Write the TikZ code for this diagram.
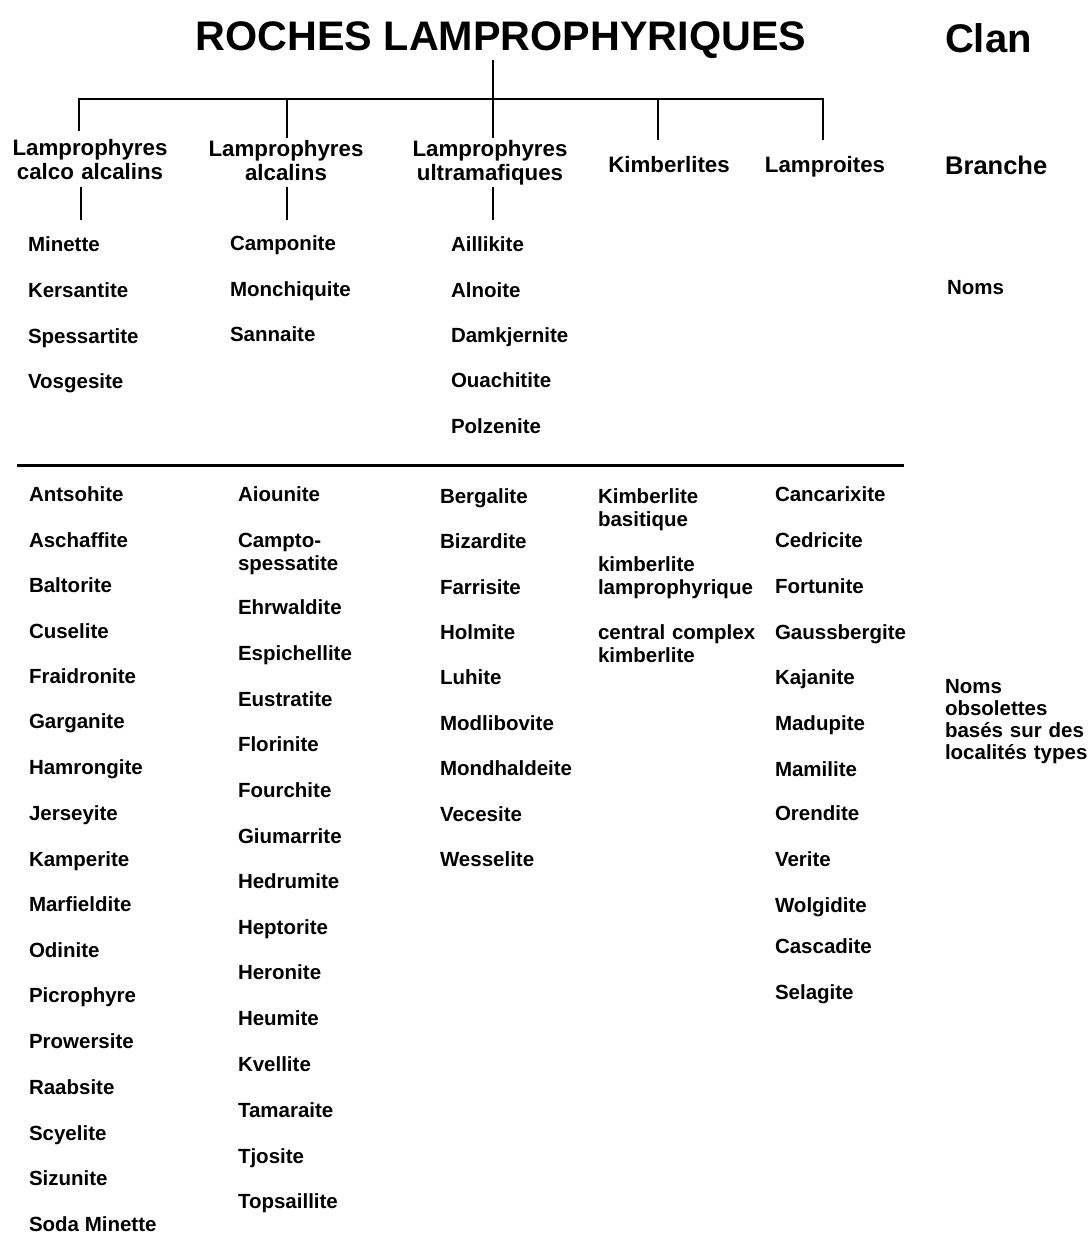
\documentclass[tikz,border=0pt]{standalone}
\usepackage{fontspec}
\setmainfont{Liberation Sans}
\begin{document}
\begin{tikzpicture}[x=1pt,y=-1pt,
  nm/.style={inner sep=0pt, outer sep=0pt, font=\bfseries\fontsize{20.5}{23}\selectfont, anchor=base west},
  ml/.style={nm, text width=200pt, align=left},
  br/.style={inner sep=0pt, outer sep=0pt, font=\bfseries\fontsize{22.3}{24.5}\selectfont, text width=200pt, align=center, anchor=base},
  ttl/.style={inner sep=0pt, outer sep=0pt, font=\bfseries\fontsize{41.3}{44}\selectfont, anchor=base},
  side/.style={inner sep=0pt, outer sep=0pt, font=\bfseries\fontsize{20.5}{22.3}\selectfont, text width=160pt, align=left, anchor=base west},
  tree/.style={line width=2pt},
  sep/.style={line width=3pt}]
\useasboundingbox (0,0) rectangle (1088,1235);

% --- headers
\node[ttl] (title) at (501,50) {ROCHES LAMPROPHYRIQUES};
\node[inner sep=0pt, outer sep=0pt, font=\bfseries\fontsize{40}{44}\selectfont, anchor=base west] (clan) at (945,52) {Clan};
\node[inner sep=0pt, font=\bfseries\fontsize{25.5}{28}\selectfont, anchor=base west] (branche) at (945,174) {Branche};
\node[nm, anchor=base west] (noms) at (947,294) {Noms};
\node[side] (obs) at (945,693) {Noms\\obsolettes\\basés sur des\\localités types};

% --- branches
\node[br] (b1) at (90,155) {Lamprophyres\\calco alcalins};
\node[br] (b2) at (286,156) {Lamprophyres\\alcalins};
\node[br] (b3) at (490,156) {Lamprophyres\\ultramafiques};
\node[br] (b4) at (669,172) {Kimberlites};
\node[br] (b5) at (825,172) {Lamproites};

% --- tree
\coordinate (top) at (493,60);
\coordinate (j3) at (493,99);
\coordinate (jL) at (79,99);
\coordinate (j2) at (287,99);
\coordinate (j4) at (658,99);
\coordinate (jR) at (823,99);
\coordinate (e1) at (79,131);
\coordinate (e2) at (287,138);
\coordinate (e3) at (493,138);
\coordinate (e4) at (658,140);
\coordinate (e5) at (823,140);
\draw[tree] (top) -- (j3);
\draw[tree] (e1) -- (jL) -- (jR) -- (e5);
\draw[tree] (j2) -- (e2);
\draw[tree] (j3) -- (e3);
\draw[tree] (j4) -- (e4);

\coordinate (f1a) at (81,187); \coordinate (f1b) at (81,220);
\coordinate (f2a) at (287,187); \coordinate (f2b) at (287,220);
\coordinate (f3a) at (493,187); \coordinate (f3b) at (493,220);
\draw[tree] (f1a) -- (f1b);
\draw[tree] (f2a) -- (f2b);
\draw[tree] (f3a) -- (f3b);

% --- current names
\node[nm] (minette) at (28,251) {Minette};
\node[nm] (kersantite) at (28,297) {Kersantite};
\node[nm] (spessartite) at (28,343) {Spessartite};
\node[nm] (vosgesite) at (28,388) {Vosgesite};

\node[nm] (camponite) at (230,250) {Camponite};
\node[nm] (monchiquite) at (230,296) {Monchiquite};
\node[nm] (sannaite) at (230,341) {Sannaite};

\node[nm] (aillikite) at (451,251) {Aillikite};
\node[nm] (alnoite) at (451,297) {Alnoite};
\node[nm] (damkjernite) at (451,342) {Damkjernite};
\node[nm] (ouachitite) at (451,387) {Ouachitite};
\node[nm] (polzenite) at (451,433) {Polzenite};

% --- separator
\coordinate (sl) at (17,465);
\coordinate (sr) at (904,465);
\draw[sep] (sl) -- (sr);

% --- obsolete names, column 1
\node[nm] (o101) at (29,501) {Antsohite};
\node[nm] (o102) at (29,547) {Aschaffite};
\node[nm] (o103) at (29,592) {Baltorite};
\node[nm] (o104) at (29,638) {Cuselite};
\node[nm] (o105) at (29,683) {Fraidronite};
\node[nm] (o106) at (29,728) {Garganite};
\node[nm] (o107) at (29,774) {Hamrongite};
\node[nm] (o108) at (29,820) {Jerseyite};
\node[nm] (o109) at (29,866) {Kamperite};
\node[nm] (o110) at (29,911) {Marfieldite};
\node[nm] (o111) at (29,957) {Odinite};
\node[nm] (o112) at (29,1002) {Picrophyre};
\node[nm] (o113) at (29,1048) {Prowersite};
\node[nm] (o114) at (29,1094) {Raabsite};
\node[nm] (o115) at (29,1140) {Scyelite};
\node[nm] (o116) at (29,1185) {Sizunite};
\node[nm] (o117) at (29,1231) {Soda Minette};

% --- column 2
\node[nm] (o201) at (238,501) {Aiounite};
\node[ml] (o202) at (238,547) {Campto-\\spessatite};
\node[nm] (o203) at (238,614) {Ehrwaldite};
\node[nm] (o204) at (238,660) {Espichellite};
\node[nm] (o205) at (238,706) {Eustratite};
\node[nm] (o206) at (238,751) {Florinite};
\node[nm] (o207) at (238,797) {Fourchite};
\node[nm] (o208) at (238,843) {Giumarrite};
\node[nm] (o209) at (238,888) {Hedrumite};
\node[nm] (o210) at (238,934) {Heptorite};
\node[nm] (o211) at (238,979) {Heronite};
\node[nm] (o212) at (238,1025) {Heumite};
\node[nm] (o213) at (238,1071) {Kvellite};
\node[nm] (o214) at (238,1117) {Tamaraite};
\node[nm] (o215) at (238,1163) {Tjosite};
\node[nm] (o216) at (238,1208) {Topsaillite};

% --- column 3
\node[nm] (o301) at (440,503) {Bergalite};
\node[nm] (o302) at (440,548) {Bizardite};
\node[nm] (o303) at (440,594) {Farrisite};
\node[nm] (o304) at (440,639) {Holmite};
\node[nm] (o305) at (440,684) {Luhite};
\node[nm] (o306) at (440,730) {Modlibovite};
\node[nm] (o307) at (440,775) {Mondhaldeite};
\node[nm] (o308) at (440,821) {Vecesite};
\node[nm] (o309) at (440,866) {Wesselite};

% --- column 4
\node[ml] (o401) at (598,503) {Kimberlite\\basitique};
\node[ml] (o402) at (598,571) {kimberlite\\lamprophyrique};
\node[ml] (o403) at (598,639) {central complex\\kimberlite};

% --- column 5
\node[nm] (o501) at (775,501) {Cancarixite};
\node[nm] (o502) at (775,547) {Cedricite};
\node[nm] (o503) at (775,593) {Fortunite};
\node[nm] (o504) at (775,639) {Gaussbergite};
\node[nm] (o505) at (775,684) {Kajanite};
\node[nm] (o506) at (775,730) {Madupite};
\node[nm] (o507) at (775,776) {Mamilite};
\node[nm] (o508) at (775,820) {Orendite};
\node[nm] (o509) at (775,866) {Verite};
\node[nm] (o510) at (775,912) {Wolgidite};
\node[nm] (o511) at (775,953) {Cascadite};
\node[nm] (o512) at (775,999) {Selagite};
\end{tikzpicture}
\end{document}
